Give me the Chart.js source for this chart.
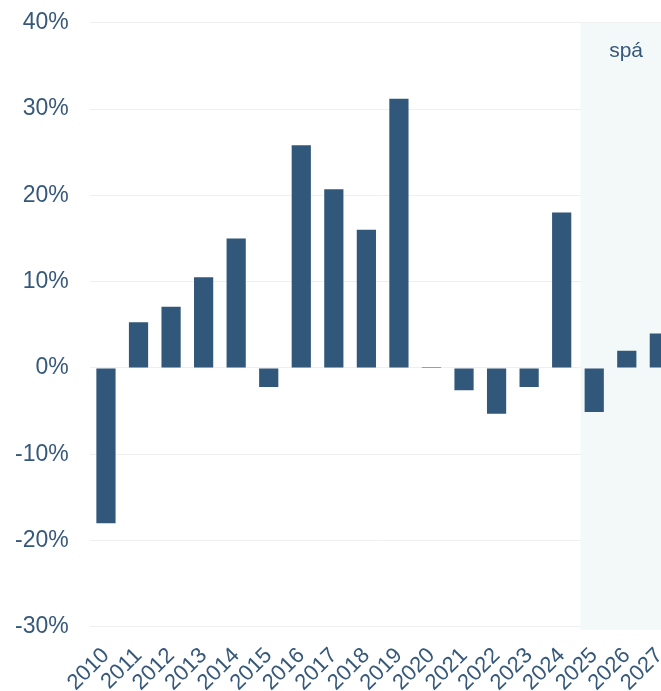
<!DOCTYPE html>
<html>
<head>
<meta charset="utf-8">
<script src="https://cdn.jsdelivr.net/npm/chart.js@4"></script>
<style>
    html, body { margin: 0; padding: 0; background: #fff; overflow: hidden; width: 661px; height: 691px; position: relative; }
    #wrap { position: absolute; left: -6px; top: -12px; width: 692px; height: 716px; }
</style>
</head>
<body>
<div id="wrap"><canvas id="chart"></canvas></div>
<script>
    // Ár og breyting (%)
    const years = ['2010', '2011', '2012', '2013', '2014', '2015', '2016', '2017', '2018',
        '2019', '2020', '2021', '2022', '2023', '2024', '2025', '2026', '2027'];
    const change = [-18.0, 5.3, 7.1, 10.5, 15.0, -2.2, 25.8, 20.7, 16.0,
        31.2, 0.1, -2.6, -5.3, -2.2, 18.0, -5.1, 2.0, 4.0];
    const yTicks = [40, 30, 20, 10, 0, -10, -20, -30];
    const forecastStart = 14.58; // spá byrjar
    const forecastLabel = 'spá';

    const mainColor = '#31577a';
    const textColor = '#36587a';

    // Skyggt svæði fyrir spá
    const forecastShade = {
        id: 'forecastShade',
        beforeDatasetsDraw(chart) {
            const { ctx, chartArea, scales } = chart;
            const x0 = scales.x.getPixelForValue(forecastStart);
            ctx.save();
            ctx.fillStyle = '#f3f9f9';
            ctx.fillRect(x0, chartArea.top, chartArea.right - x0, chartArea.bottom - chartArea.top + 3);
            ctx.fillStyle = textColor;
            ctx.font = '21px "Liberation Sans", Arial, sans-serif';
            ctx.textAlign = 'center';
            ctx.textBaseline = 'middle';
            ctx.fillText(forecastLabel, (x0 + chartArea.right) / 2 - 2, chartArea.top + 28);
            ctx.restore();
        }
    };

    const ctx = document.getElementById('chart').getContext('2d');
    new Chart(ctx, {
        type: 'bar',
        data: {
            labels: years,
            datasets: [{
                data: change,
                backgroundColor: mainColor,
                categoryPercentage: 1,
                barPercentage: 0.59
            }]
        },
        options: {
            responsive: true,
            maintainAspectRatio: false,
            animation: false,
            layout: { padding: 0 },
            plugins: {
                legend: { display: false },
                tooltip: { enabled: false }
            },
            scales: {
                x: {
                    grid: { display: false },
                    border: { display: false },
                    ticks: {
                        color: textColor,
                        font: { size: 22, family: '"Liberation Sans", Arial, sans-serif' },
                        autoSkip: false,
                        minRotation: 45,
                        maxRotation: 45,
                        padding: 8
                    }
                },
                y: {
                    min: -30,
                    max: 40,
                    afterBuildTicks: (axis) => {
                        axis.ticks = yTicks.map(v => ({ value: v }));
                    },
                    grid: { color: '#efefef', drawTicks: false },
                    border: { display: false },
                    ticks: {
                        color: textColor,
                        font: { size: 23, family: '"Liberation Sans", Arial, sans-serif' },
                        padding: 21,
                        callback: v => v + '%'
                    }
                }
            }
        },
        plugins: [forecastShade]
    });
</script>
</body>
</html>
